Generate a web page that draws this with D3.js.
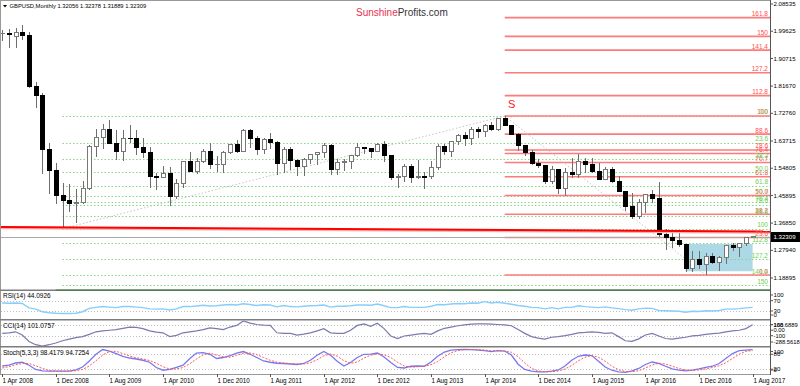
<!DOCTYPE html>
<html>
<head>
<meta charset="utf-8">
<title>GBPUSD Monthly</title>
<script src="https://cdn.jsdelivr.net/npm/d3@7"></script>
<style>
  body { margin: 0; background: #fff; }
  svg { display: block; font-family: 'Liberation Sans', Arial, sans-serif; }
</style>
</head>
<body>
<div id="chart"></div>
<script>
'use strict'

// Monthly bars, Apr 2008 .. Aug 2017 (one value per bar).
const opens = [1.9880,1.9900,1.9800,1.9930,1.9830,1.8150,1.7870,1.6100,1.5400,1.4600,
  1.4420,1.4330,1.4350,1.4820,1.6200,1.6500,1.6740,1.6300,1.6040,1.6460,
  1.6450,1.6170,1.5990,1.5220,1.5180,1.5300,1.4560,1.4990,1.5710,1.5390,
  1.5710,1.6030,1.5600,1.5610,1.6010,1.6270,1.6040,1.6720,1.6460,1.6090,
  1.6420,1.6320,1.5630,1.6100,1.5740,1.5550,1.5780,1.5940,1.6000,1.6240,
  1.5430,1.5680,1.5690,1.5900,1.6160,1.6140,1.6030,1.6260,1.5900,1.5170,
  1.5210,1.5530,1.5180,1.5210,1.5200,1.5520,1.6190,1.6040,1.6370,1.6560,
  1.6440,1.6750,1.6670,1.6880,1.6750,1.7105,1.6880,1.6590,1.6215,1.5995,
  1.5640,1.5580,1.5050,1.5440,1.4825,1.5350,1.5285,1.5710,1.5615,1.5375,
  1.5125,1.5425,1.5045,1.4735,1.4240,1.3915,1.4370,1.4615,1.4480,1.3310,
  1.3230,1.3130,1.2970,1.2190,1.2480,1.2340,1.2580,1.2410,1.2550,1.2945,
  1.2880,1.3025,1.32056];
const highs = [2.0000,2.0020,2.0056,2.0160,1.9950,1.8300,1.7950,1.6300,1.5650,1.5000,
  1.4980,1.4800,1.5050,1.6250,1.6760,1.6930,1.7050,1.6740,1.6720,1.6880,
  1.6740,1.6460,1.6160,1.5320,1.5540,1.5520,1.5130,1.5730,1.6000,1.5820,
  1.6100,1.6300,1.5880,1.6060,1.6280,1.6400,1.6750,1.6750,1.6550,1.6470,
  1.6620,1.6380,1.6170,1.6160,1.5780,1.5800,1.5960,1.6020,1.6300,1.6280,
  1.5780,1.5780,1.5910,1.6310,1.6190,1.6150,1.6310,1.6380,1.5910,1.5280,
  1.5610,1.5610,1.5750,1.5350,1.5720,1.6260,1.6260,1.6380,1.6600,1.6670,
  1.6820,1.6820,1.6920,1.6990,1.7110,1.7191,1.6900,1.6640,1.6230,1.6080,
  1.5790,1.5590,1.5550,1.5450,1.5500,1.5815,1.5930,1.5800,1.5820,1.5660,
  1.5510,1.5510,1.5240,1.4750,1.4670,1.4460,1.4640,1.4770,1.5020,1.3480,
  1.3370,1.3440,1.2980,1.2770,1.2780,1.2710,1.2710,1.2620,1.2960,1.3050,
  1.3030,1.3210,1.32378];
const lows = [1.9650,1.9420,1.9400,1.9670,1.8100,1.7460,1.5300,1.4650,1.4320,1.3503,
  1.4050,1.3700,1.4300,1.4780,1.5840,1.6120,1.6260,1.5760,1.5710,1.6290,
  1.5920,1.5830,1.4820,1.4780,1.5160,1.4230,1.4470,1.4850,1.5350,1.5300,
  1.5650,1.5450,1.5350,1.5340,1.5960,1.5970,1.6010,1.6150,1.5910,1.5960,
  1.6120,1.5270,1.5330,1.5420,1.5240,1.5230,1.5620,1.5600,1.5800,1.5270,
  1.5270,1.5390,1.5460,1.5860,1.5930,1.5830,1.6000,1.5680,1.5100,1.4830,
  1.5030,1.5000,1.5130,1.4810,1.5120,1.5420,1.5900,1.5850,1.6230,1.6220,
  1.6250,1.6460,1.6510,1.6690,1.6700,1.6870,1.6580,1.6050,1.5870,1.5590,
  1.5480,1.4950,1.4950,1.4630,1.4570,1.5170,1.5170,1.5330,1.5330,1.5110,
  1.5110,1.4990,1.4720,1.4080,1.3830,1.3830,1.4000,1.4330,1.3230,1.2800,
  1.2870,1.2920,1.2090,1.2080,1.2200,1.1986,1.2340,1.2110,1.2360,1.2770,
  1.2590,1.2930,1.31889];
const closes = [1.9900,1.9840,1.9930,1.9830,1.8150,1.7870,1.6100,1.5400,1.4600,1.4420,
  1.4330,1.4350,1.4820,1.6200,1.6500,1.6740,1.6300,1.6040,1.6460,1.6450,
  1.6170,1.5990,1.5220,1.5180,1.5300,1.4560,1.4990,1.5710,1.5390,1.5710,
  1.6030,1.5600,1.5610,1.6010,1.6270,1.6040,1.6720,1.6460,1.6090,1.6420,
  1.6320,1.5630,1.6100,1.5740,1.5550,1.5780,1.5940,1.6000,1.6240,1.5430,
  1.5680,1.5690,1.5900,1.6160,1.6140,1.6030,1.6260,1.5900,1.5170,1.5210,
  1.5530,1.5180,1.5210,1.5200,1.5520,1.6190,1.6040,1.6370,1.6560,1.6440,
  1.6750,1.6670,1.6880,1.6750,1.7105,1.6880,1.6590,1.6215,1.5995,1.5640,
  1.5580,1.5050,1.5440,1.4825,1.5350,1.5285,1.5710,1.5615,1.5375,1.5125,
  1.5425,1.5045,1.4735,1.4240,1.3915,1.4370,1.4615,1.4480,1.3310,1.3230,
  1.3130,1.2970,1.2190,1.2480,1.2340,1.2580,1.2410,1.2550,1.2945,1.2880,
  1.3025,1.3206,1.32309];

const rsi = [61,60,61,59,42,37,27,23,21,20, 20,21,27,40,44,47,45,43,47,47,
  45,43,38,37,38,34,38,47,47,49, 52,49,50,53,55,53,58,55,51,54,
  53,46,51,47,46,48,50,51,53,45, 48,48,50,53,53,52,57,50,43,43,
  47,44,44,44,48,55,54,57,59,58, 61,60,66,61,64,60,56,51,48,44,
  43,38,43,38,44,44,50,47,45,43, 46,42,39,35,33,38,41,40,32,31,
  30,29,25,29,28,31,30,32,37,37, 39,42,44.0926];
const cci = [-58,-47,-29,-88,-205,-265,-288.5618,-265,-234,-193, -164,-135,-117,-76,-29,-12,0,12,35,58,
  52,29,-12,-35,-47,-117,-94,-47,-29,-12, 12,41,29,12,58,88,168.6889,129,105,94,
  88,-47,-58,-58,-88,-70,-47,-12,29,-47, -58,-58,0,88,117,70,129,29,-105,-152,
  -105,-88,-70,-58,-76,-12,35,58,82,99, 111,117,117,111,105,99,82,12,-58,-117,
  -146,-164,-129,-117,-99,-76,-47,-41,-29,-41, -58,-47,-117,-193,-205,-158,-88,-58,-105,-152,
  -164,-146,-129,-105,-94,-76,-64,-52,-29,-12, 0,29,101.0757];
const stochMain = [33,36,45,48,36,19,13,12,12,12, 12,17,29,53,80,99,93,83,72,65,
  61,56,48,27,16,19,27,36,63,85, 87,80,63,67,75,85,91,80,67,53,
  48,44,43,41,39,43,56,76,91,76, 52,33,47,67,80,81,85,69,47,27,
  25,32,33,32,49,72,89,97,99,100, 99,97,95,91,95,93,77,40,19,12,
  9,9,12,17,33,56,72,77,75,52, 29,16,9,7,13,23,39,49,43,32,
  21,16,13,16,21,27,32,43,63,83, 95,97,98.4179];
const stochSignal = [25,30,38,43,43,34,23,15,12,12, 12,14,19,33,54,77,91,92,83,73,
  66,61,55,44,30,21,21,27,42,61, 78,84,77,70,68,76,84,85,79,67,
  56,48,45,43,41,41,46,58,74,81, 73,54,44,49,65,76,82,78,67,48,
  33,28,30,32,38,51,70,86,95,99, 99,99,97,94,94,93,88,70,45,24,
  13,10,10,13,21,35,54,68,75,68, 52,32,18,11,10,14,25,37,44,41,
  32,23,17,15,17,21,27,34,46,63, 80,92,94.7254];

// Axis labels.
const priceTicks = ['2.08535','1.99625','1.90715','1.81670','1.72760','1.63715','1.54805','1.45895','1.36850','1.27940','1.18895'];
const dateLabels = ['1 Apr 2008','1 Dec 2008','1 Aug 2009','1 Apr 2010','1 Dec 2010','1 Aug 2011','1 Apr 2012','1 Dec 2012',
  '1 Aug 2013','1 Apr 2014','1 Dec 2014','1 Aug 2015','1 Apr 2016','1 Dec 2016','1 Aug 2017'];
const barsPerDateLabel = 8;
const lastPrice = 1.32309;
const header = 'GBPUSD,Monthly  1.32056 1.32378 1.31889 1.32309';

// Drawing objects: [bar index, price] points.
const fibLevels = [0, 23.6, 38.2, 50, 61.8, 70.7, 76.4, 78.6, 88.6, 100, 112.8, 127.2, 141.4, 150, 161.8];
const fibLabels = ['0.0','23.6','38.2','50.0','61.8','70.7','76.4','78.6','88.6','100','112.8','127.2','141.4','150','161.8'];
const greenFib = [[9, 1.3503], [75, 1.7191]];   // level 100, level 0
const redFib = [[75, 1.7191], [105, 1.1986]];   // level 100, level 0
const trendLine = [[-0.3, 1.3556], [114.6, 1.3410]];
const boxPts = [[102, 1.3000], [112, 1.2110]];
const sMark = [75.5, 1.7467];

const rsiLevels = [70, 30], cciLevels = [100, -100], stochLevels = [80, 20];

// Layout.
const width = 800, height = 386, axisX = 770;
const mainP = {top: 1, bottom: 289.5};
const rsiP = {top: 291, bottom: 319};
const cciP = {top: 320.5, bottom: 346};
const stP = {top: 347.5, bottom: 374};

const svg = d3.select('#chart').append('svg')
    .attr('width', width).attr('height', height)
    .style('background', '#fff');
const defs = svg.append('defs');

function clipFor(id, p) {
    defs.append('clipPath').attr('id', id).append('rect')
        .attr('x', 1).attr('y', p.top).attr('width', axisX - 1).attr('height', p.bottom - p.top);
    return `url(#${id})`;
}

const x = d3.scaleLinear().domain([0, 112]).range([2.2, 752.6]);
const y = d3.scaleLinear().domain([1.18895, 2.08535]).range([278, 4]);
const rsiY = d3.scaleLinear().domain([0, 100]).range([318.7, 292.9]);
const cciY = d3.scaleLinear().domain([-288.5618, 168.6889]).range([346, 321]);
const stY = d3.scaleLinear().domain([0, 100]).range([374.2, 349.3]);

// Main panel.
const gMain = svg.append('g').attr('clip-path', clipFor('clipMain', mainP));

// Blue box (background).
gMain.append('rect')
    .attr('x', x(boxPts[0][0])).attr('y', y(boxPts[0][1]))
    .attr('width', x(boxPts[1][0]) - x(boxPts[0][0]))
    .attr('height', y(boxPts[1][1]) - y(boxPts[0][1]))
    .attr('fill', '#add8e6');

// Fibonacci levels.
function fib(lvl0, lvl100) { return l => lvl0 + (lvl100 - lvl0) * l / 100; }
const gPrice = fib(greenFib[1][1], greenFib[0][1]);
const rPrice = fib(redFib[1][1], redFib[0][1]);

gMain.append('g').selectAll('line').data(fibLevels).join('line')
    .attr('x1', x(greenFib[0][0])).attr('x2', axisX)
    .attr('y1', d => Math.round(y(gPrice(d))) + 0.5).attr('y2', d => Math.round(y(gPrice(d))) + 0.5)
    .attr('stroke', '#86d886').attr('stroke-dasharray', '1.5,2');

gMain.append('g').selectAll('line').data(fibLevels).join('line')
    .attr('x1', x(redFib[0][0])).attr('x2', axisX)
    .attr('y1', d => y(rPrice(d))).attr('y2', d => y(rPrice(d)))
    .attr('stroke', '#ff7a7a').attr('stroke-width', 1.6);

// Fib diagonals.
[greenFib, redFib].forEach(pts => {
    gMain.append('line')
        .attr('x1', x(pts[0][0])).attr('y1', y(pts[0][1]))
        .attr('x2', x(pts[1][0])).attr('y2', y(pts[1][1]))
        .attr('stroke', '#c4c4c4').attr('stroke-dasharray', '1.5,2');
});

// Current price line.
gMain.append('line')
    .attr('x1', 1).attr('x2', axisX)
    .attr('y1', Math.round(y(lastPrice)) + 0.5).attr('y2', Math.round(y(lastPrice)) + 0.5)
    .attr('stroke', '#a8a8a8');

// Candles.
const bars = closes.map((c, i) => ({i, o: opens[i], h: highs[i], l: lows[i], c}));
const cx = i => Math.round(x(i)) + 0.5;
const gC = gMain.append('g').attr('shape-rendering', 'crispEdges');
gC.selectAll('line').data(bars).join('line')
    .attr('x1', d => cx(d.i)).attr('x2', d => cx(d.i))
    .attr('y1', d => y(d.h)).attr('y2', d => y(d.l))
    .attr('stroke', '#6e6e6e');
gC.selectAll('rect').data(bars).join('rect')
    .attr('x', d => cx(d.i) - 2).attr('width', 4)
    .attr('y', d => y(Math.max(d.o, d.c)))
    .attr('height', d => Math.max(0.5, Math.abs(y(d.o) - y(d.c))))
    .attr('fill', d => d.c >= d.o ? '#fff' : '#000')
    .attr('stroke', d => d.c >= d.o ? '#777' : '#000');

// Red trend line.
gMain.append('line')
    .attr('x1', x(trendLine[0][0])).attr('y1', y(trendLine[0][1]) + 1)
    .attr('x2', x(trendLine[1][0])).attr('y2', y(trendLine[1][1]) + 1)
    .attr('stroke', '#ffb0b0').attr('stroke-width', 2.5);
gMain.append('line')
    .attr('x1', x(trendLine[0][0])).attr('y1', y(trendLine[0][1]))
    .attr('x2', x(trendLine[1][0])).attr('y2', y(trendLine[1][1]))
    .attr('stroke', '#ff0000').attr('stroke-width', 2);

// Fib labels (they overlap where levels coincide, as in the source chart).
gMain.append('g').selectAll('text').data(fibLevels).join('text')
    .attr('x', 768).attr('y', d => y(rPrice(d)) - 1.5)
    .attr('text-anchor', 'end').attr('font-size', 6.5).attr('fill', '#ff4d4d')
    .text((d, k) => fibLabels[k]);
gMain.append('g').selectAll('text').data(fibLevels).join('text')
    .attr('x', 768).attr('y', d => y(gPrice(d)) - 1.5)
    .attr('text-anchor', 'end').attr('font-size', 6.5).attr('fill', '#6fcf55')
    .text((d, k) => fibLabels[k]);

// "S" mark.
gMain.append('text')
    .attr('x', x(sMark[0])).attr('y', y(sMark[1]))
    .attr('font-size', 11).attr('fill', '#ff2020')
    .text('S');

// Watermark.
const wm = svg.append('text').attr('x', 356).attr('y', 16).attr('font-size', 10);
wm.append('tspan').attr('fill', '#e8334f').text('Sunshine');
wm.append('tspan').attr('fill', '#333').text('Profits.com');

// Header.
svg.append('path').attr('d', 'M3,5 L7,5 L5,7.5 Z').attr('fill', '#000');
svg.append('text').attr('x', 9.5).attr('y', 8).attr('font-size', 5.8).attr('fill', '#000').text(header);

// Indicator panels.
function panel(id, p, sy, series, levels, title) {
    const g = svg.append('g').attr('clip-path', clipFor(id, p));
    g.selectAll('line.lvl').data(levels).join('line')
        .attr('x1', 1).attr('x2', axisX)
        .attr('y1', d => Math.round(sy(d)) + 0.5).attr('y2', d => Math.round(sy(d)) + 0.5)
        .attr('stroke', '#c0c0c0').attr('stroke-dasharray', '1,2');
    series.forEach(s => {
        g.append('path')
            .datum(s.values)
            .attr('d', d3.line().x((v, i) => x(i)).y(v => sy(v)))
            .attr('fill', 'none').attr('stroke', s.color)
            .attr('stroke-width', s.w).attr('stroke-dasharray', s.dash || null);
    });
    svg.append('text').attr('x', 3).attr('y', p.top + 7).attr('font-size', 6.5).attr('fill', '#000').text(title);
}
panel('clipRsi', rsiP, rsiY, [{values: rsi, color: '#87cefa', w: 1.4}], rsiLevels, 'RSI(14) 44.0926');
panel('clipCci', cciP, cciY, [{values: cci, color: '#7a7ab0', w: 1.2}], cciLevels, 'CCI(14) 101.0757');
panel('clipSt', stP, stY, [
    {values: stochMain, color: '#7878f0', w: 1.3},
    {values: stochSignal, color: '#ff5a5a', w: 1, dash: '2,1.5'}
], stochLevels, 'Stoch(5,3,3) 98.4179 94.7254');

// Frames and separators.
svg.append('rect').attr('x', 0.5).attr('y', 0.5).attr('width', axisX).attr('height', 374)
    .attr('fill', 'none').attr('stroke', '#999');
[290.2, 319.8, 346.8].forEach(v => {
    svg.append('line').attr('x1', 0).attr('x2', axisX).attr('y1', v).attr('y2', v)
        .attr('stroke', '#7c7c7c').attr('stroke-width', 1.6);
});
svg.append('line').attr('x1', x(8)).attr('x2', axisX).attr('y1', 290.2).attr('y2', 290.2)
    .attr('stroke', '#4f7f4f').attr('stroke-width', 1.4);
svg.append('line').attr('x1', axisX + 0.5).attr('x2', axisX + 0.5).attr('y1', 0).attr('y2', 375)
    .attr('stroke', '#555');

// Right axis labels.
function rightLabels(values, texts, sy, p, size) {
    values.forEach((v, k) => {
        const ty = Math.max(p.top + 4, Math.min(p.bottom - 4, sy(v)));
        svg.append('line').attr('x1', axisX).attr('x2', axisX + 3).attr('y1', ty).attr('y2', ty).attr('stroke', '#555');
        svg.append('text').attr('x', axisX + 3.5).attr('y', ty).attr('dy', '0.35em')
            .attr('font-size', size || 6.1).attr('fill', '#000').text(texts[k]);
    });
}
rightLabels(priceTicks.map(Number), priceTicks, y, {top: 0, bottom: 290});
rightLabels([100, 70, 30, 0], ['100', '70', '30', '0'], rsiY, rsiP);
rightLabels([168.6889, 100, 0, -100, -288.5618], ['168.6889', '100', '0.00', '-100', '-288.5618'], cciY, cciP, 5.8);
rightLabels([100, 80, 20, 0], ['100', '80', '20', '0'], stY, stP);

// Current price tag.
svg.append('rect').attr('x', axisX + 1).attr('y', y(lastPrice) - 5).attr('width', 29).attr('height', 10).attr('fill', '#000');
svg.append('text').attr('x', axisX + 3.5).attr('y', y(lastPrice)).attr('dy', '0.35em')
    .attr('font-size', 6.1).attr('fill', '#fff').text(lastPrice.toFixed(5));

// Date axis.
const gD = svg.append('g');
dateLabels.forEach((t, k) => {
    const px = Math.round(x(k * barsPerDateLabel)) + 0.5;
    gD.append('line').attr('x1', px).attr('x2', px).attr('y1', 374).attr('y2', 377).attr('stroke', '#555');
    gD.append('text').attr('x', px).attr('y', 382.5).attr('font-size', 6.3).attr('fill', '#000').text(t);
});
</script>
</body>
</html>
